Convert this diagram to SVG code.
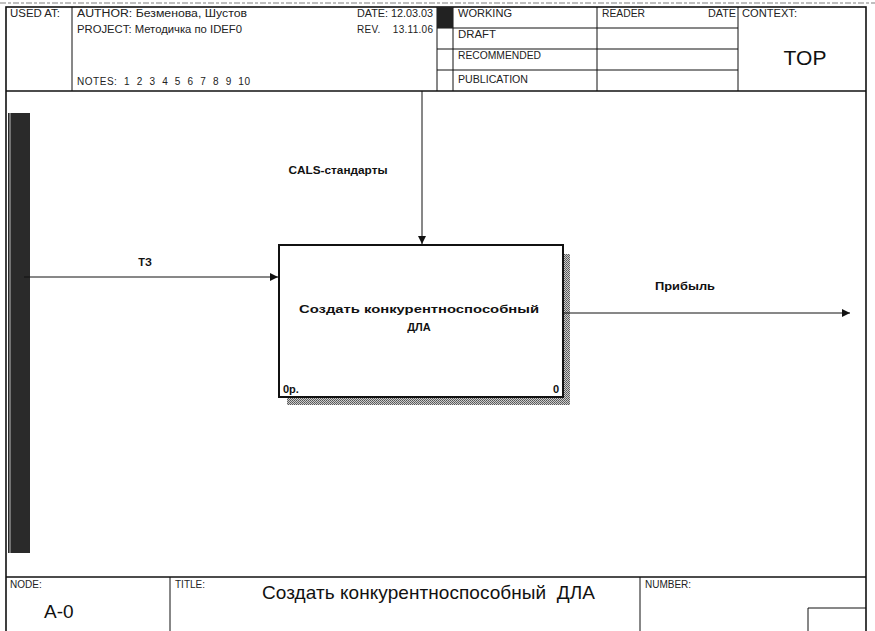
<svg xmlns="http://www.w3.org/2000/svg" width="875" height="631" viewBox="0 0 875 631">
<style>
  .ln{stroke:#111;stroke-width:1;fill:none}
  .th{stroke:#111;stroke-width:1.6;fill:none}
  .hd{font-family:"Liberation Sans",Arial,sans-serif;font-size:10px;fill:#222}
  .lbl{font-family:"Liberation Sans",Arial,sans-serif;font-size:11px;font-weight:bold;fill:#111}
  .big{font-family:"Liberation Sans",Arial,sans-serif;fill:#111}
</style>
<defs>
  <pattern id="hatch" width="2" height="2" patternUnits="userSpaceOnUse">
    <rect width="2" height="2" fill="#ccc"/>
    <rect width="1" height="1" fill="#555"/>
    <rect x="1" y="1" width="1" height="1" fill="#666"/>
  </pattern>
  <marker id="arr" viewBox="0 0 10 10" refX="10" refY="5" markerWidth="10" markerHeight="8" markerUnits="userSpaceOnUse" orient="auto">
    <path d="M0,0 L10,5 L0,10 Z" fill="#111"/>
  </marker>
</defs>
<rect width="875" height="631" fill="#fff"/>
<line x1="0" y1="3" x2="875" y2="3" stroke="#aaa" stroke-width="1.5" stroke-dasharray="6 2 3 2"/>

<g id="frame">
  <rect x="6" y="7" width="860" height="640" class="th"/>
  <line x1="6" y1="91" x2="866" y2="91" class="th"/>
  <line x1="6" y1="577" x2="866" y2="577" class="th"/>
  <rect x="8" y="113" width="22" height="440" fill="#2a2a2a"/>
  <line x1="10" y1="113" x2="10" y2="553" stroke="#bbb" stroke-width="1"/>
</g>

<g id="header">
  <line x1="72" y1="7" x2="72" y2="91" class="ln"/>
  <line x1="437" y1="7" x2="437" y2="91" class="ln"/>
  <line x1="453" y1="7" x2="453" y2="91" class="ln"/>
  <line x1="597" y1="7" x2="597" y2="91" class="ln"/>
  <line x1="738" y1="7" x2="738" y2="91" class="ln"/>
  <line x1="437" y1="28" x2="738" y2="28" class="ln"/>
  <line x1="437" y1="49" x2="738" y2="49" class="ln"/>
  <line x1="437" y1="70" x2="738" y2="70" class="ln"/>
  <rect x="437" y="7" width="16" height="21" fill="#222"/>
  <text x="10" y="17" class="hd" textLength="50" lengthAdjust="spacingAndGlyphs">USED AT:</text>
  <text x="77" y="17" class="hd" textLength="170" lengthAdjust="spacingAndGlyphs">AUTHOR:  Безменова, Шустов</text>
  <text x="77" y="33" class="hd" textLength="165" lengthAdjust="spacingAndGlyphs">PROJECT:  Методичка по IDEF0</text>
  <text x="77" y="85" class="hd" textLength="173" xml:space="preserve">NOTES:  1  2  3  4  5  6  7  8  9  10</text>
  <text x="357" y="17" class="hd" textLength="76" lengthAdjust="spacingAndGlyphs">DATE: 12.03.03</text>
  <text x="357" y="33" class="hd" textLength="76" xml:space="preserve">REV.    13.11.06</text>
  <text x="458" y="17" class="hd" textLength="54" lengthAdjust="spacingAndGlyphs">WORKING</text>
  <text x="458" y="38" class="hd" textLength="38" lengthAdjust="spacingAndGlyphs">DRAFT</text>
  <text x="458" y="59" class="hd" textLength="83" lengthAdjust="spacingAndGlyphs">RECOMMENDED</text>
  <text x="458" y="83" class="hd" textLength="70" lengthAdjust="spacingAndGlyphs">PUBLICATION</text>
  <text x="602" y="17" class="hd" textLength="43" lengthAdjust="spacingAndGlyphs">READER</text>
  <text x="708" y="17" class="hd" textLength="28" lengthAdjust="spacingAndGlyphs">DATE</text>
  <text x="742" y="17" class="hd" textLength="55" lengthAdjust="spacingAndGlyphs">CONTEXT:</text>
  <text x="805" y="65" class="big" font-size="21" text-anchor="middle">TOP</text>
</g>

<g id="footer">
  <line x1="170" y1="577" x2="170" y2="631" class="ln"/>
  <line x1="640" y1="577" x2="640" y2="631" class="ln"/>
  <text x="10" y="588" class="hd" font-size="8">NODE:</text>
  <text x="44" y="618" class="big" font-size="19">A-0</text>
  <text x="175" y="588" class="hd" font-size="8">TITLE:</text>
  <text x="262" y="599" class="big" font-size="19" textLength="333" xml:space="preserve">Создать конкурентноспособный  ДЛА</text>
  <text x="645" y="588" class="hd" font-size="8">NUMBER:</text>
  <polyline points="808,631 808,608 866,608" class="ln"/>
</g>

<g id="box">
  <rect x="563" y="254" width="7" height="151" fill="url(#hatch)"/>
  <rect x="287" y="397" width="283" height="8" fill="url(#hatch)"/>
  <rect x="279" y="245" width="284" height="152" fill="#fff" stroke="#111" stroke-width="2"/>
  <text x="419" y="313" class="lbl" font-size="16" text-anchor="middle" textLength="240" lengthAdjust="spacingAndGlyphs">Создать конкурентноспособный</text>
  <text x="419" y="331" class="lbl" font-size="16" text-anchor="middle">ДЛА</text>
  <text x="283" y="393" class="lbl" font-size="8">0р.</text>
  <text x="559" y="393" class="lbl" font-size="8" text-anchor="end">0</text>
</g>

<g id="connectors">
  <line x1="24" y1="277" x2="278" y2="277" class="ln" marker-end="url(#arr)"/>
  <line x1="422" y1="91" x2="422" y2="244" class="ln" marker-end="url(#arr)"/>
  <line x1="564" y1="313" x2="850" y2="313" class="ln" marker-end="url(#arr)"/>
  <text x="338" y="174" class="lbl" font-size="11" text-anchor="middle" textLength="99" lengthAdjust="spacingAndGlyphs">CALS-стандарты</text>
  <text x="145" y="266" class="lbl" font-size="11" text-anchor="middle">ТЗ</text>
  <text x="685" y="290" class="lbl" font-size="11.5" text-anchor="middle" textLength="60" lengthAdjust="spacingAndGlyphs">Прибыль</text>
</g>
</svg>
